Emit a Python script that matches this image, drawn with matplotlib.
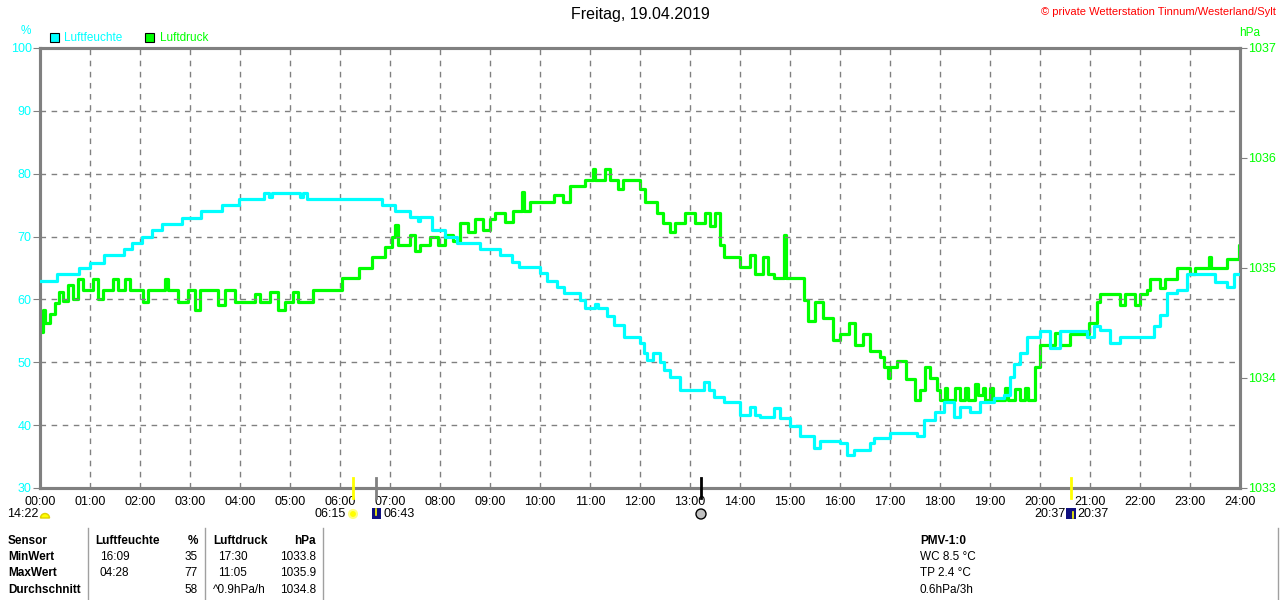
import matplotlib.pyplot as plt
import matplotlib.patches as mpatches
from matplotlib.transforms import blended_transform_factory

plt.rcParams['font.family'] = ['Liberation Sans', 'DejaVu Sans']

# Luftfeuchte (%), hours since midnight
hum_t = [0.00, 0.33, 0.77, 1.00, 1.27, 1.67, 1.83, 2.04, 2.23, 2.43, 2.84, 3.22,
         3.64, 3.98, 4.47, 4.58, 4.63, 5.20, 5.25, 5.33, 6.84, 7.10, 7.40, 7.55,
         7.60, 7.84, 8.10, 8.33, 8.80, 9.20, 9.43, 9.57, 10.00, 10.13, 10.33, 10.47,
         10.80, 10.90, 11.10, 11.15, 11.33, 11.47, 11.67, 12.00, 12.07, 12.13, 12.25,
         12.40, 12.47, 12.60, 12.80, 13.28, 13.38, 13.47, 13.67, 14.00, 14.20, 14.30,
         14.40, 14.67, 14.80, 15.00, 15.20, 15.47, 15.60, 16.00, 16.15, 16.27, 16.60,
         16.67, 17.00, 17.53, 17.67, 17.90, 18.07, 18.27, 18.40, 18.60, 18.80, 19.07,
         19.27, 19.40, 19.47, 19.60, 19.73, 20.00, 20.20, 20.40, 20.93, 21.07, 21.20,
         21.40, 21.60, 22.27, 22.40, 22.53, 22.73, 22.93, 23.50, 23.73, 23.87, 24.00]
hum_v = [63.0, 64.0, 65.0, 65.8, 67.0, 68.0, 68.9, 69.9, 71.0, 72.0, 72.9, 74.0,
         75.0, 76.0, 77.0, 76.3, 77.0, 76.3, 77.0, 76.0, 75.0, 74.1, 73.1, 72.5,
         73.1, 71.0, 69.9, 68.9, 68.0, 67.1, 66.0, 65.1, 64.2, 63.0, 62.0, 61.0,
         59.9, 58.6, 59.3, 58.6, 57.3, 55.9, 54.1, 53.0, 51.4, 50.4, 51.5,
         50.0, 48.8, 47.7, 45.6, 46.9, 45.6, 44.5, 43.7, 41.6, 42.9, 41.6,
         41.3, 42.7, 41.1, 39.8, 38.2, 36.3, 37.4, 37.2, 35.3, 36.0, 37.1,
         37.9, 38.7, 38.2, 40.8, 42.1, 43.7, 41.3, 42.9, 42.1, 43.7, 44.3,
         44.8, 47.7, 49.8, 51.4, 54.1, 54.9, 52.2, 54.9, 54.1, 55.8, 55.1,
         53.0, 54.0, 55.7, 57.5, 61.0, 61.5, 64.0, 62.8, 62.0, 64.0, 64.0]

# Luftdruck (hPa)
prs_t = [0.00, 0.05, 0.10, 0.20, 0.30, 0.37, 0.45, 0.55, 0.65, 0.75, 0.85, 1.05,
         1.15, 1.25, 1.45, 1.55, 1.70, 1.80, 2.05, 2.15, 2.50, 2.55, 2.75, 2.95,
         3.10, 3.20, 3.55, 3.70, 3.90, 4.30, 4.40, 4.60, 4.75, 4.90, 5.05, 5.15,
         5.45, 6.03, 6.37, 6.63, 6.90, 7.03, 7.10, 7.15, 7.40, 7.50, 7.60, 7.80,
         7.95, 8.10, 8.25, 8.40, 8.55, 8.70, 8.85, 9.00, 9.10, 9.30, 9.45, 9.63,
         9.67, 9.80, 10.27, 10.45, 10.60, 10.90, 11.05, 11.10, 11.30, 11.40, 11.55,
         11.65, 12.00, 12.10, 12.33, 12.45, 12.60, 12.70, 12.90, 13.10, 13.30, 13.40,
         13.50, 13.60, 13.67, 14.00, 14.20, 14.30, 14.45, 14.55, 14.67, 14.88, 14.92,
         15.27, 15.35, 15.50, 15.65, 15.85, 16.00, 16.17, 16.30, 16.45, 16.60, 16.80,
         16.87, 16.95, 17.00, 17.15, 17.33, 17.50, 17.60, 17.70, 17.80, 17.93, 18.00,
         18.10, 18.15, 18.30, 18.40, 18.50, 18.55, 18.70, 18.75, 18.85, 18.90, 19.00,
         19.05, 19.20, 19.30, 19.35, 19.50, 19.60, 19.70, 19.75, 19.90, 20.00, 20.30,
         20.40, 20.60, 20.97, 21.13, 21.20, 21.60, 21.70, 21.90, 22.00, 22.13, 22.20,
         22.40, 22.50, 22.73, 23.00, 23.10, 23.37, 23.42, 23.73, 23.97, 24.00]
prs_v = [1034.42, 1034.62, 1034.50, 1034.58, 1034.68, 1034.78, 1034.70, 1034.85,
         1034.72, 1034.90, 1034.80, 1034.90, 1034.72, 1034.80, 1034.90, 1034.80,
         1034.90, 1034.80, 1034.69, 1034.80, 1034.90, 1034.80, 1034.69, 1034.80,
         1034.62, 1034.80, 1034.66, 1034.80, 1034.69, 1034.76, 1034.69, 1034.78,
         1034.62, 1034.69, 1034.78, 1034.69, 1034.80, 1034.91, 1035.00, 1035.10,
         1035.19, 1035.28, 1035.39, 1035.21, 1035.30, 1035.15, 1035.21, 1035.28,
         1035.21, 1035.30, 1035.25, 1035.41, 1035.33, 1035.45, 1035.35, 1035.45,
         1035.50, 1035.42, 1035.52, 1035.69, 1035.52, 1035.60, 1035.66, 1035.60,
         1035.75, 1035.80, 1035.90, 1035.80, 1035.90, 1035.80, 1035.72, 1035.80,
         1035.72, 1035.60, 1035.50, 1035.41, 1035.33, 1035.41, 1035.50, 1035.41,
         1035.50, 1035.38, 1035.50, 1035.21, 1035.10, 1035.01, 1035.12, 1034.95,
         1035.10, 1034.95, 1034.91, 1035.30, 1034.91, 1034.71, 1034.52, 1034.69,
         1034.55, 1034.35, 1034.40, 1034.50, 1034.30, 1034.40, 1034.25, 1034.19,
         1034.10, 1034.00, 1034.10, 1034.15, 1033.99, 1033.80, 1033.89, 1034.10,
         1034.00, 1033.89, 1033.80,
         1033.91, 1033.80, 1033.91, 1033.80, 1033.91, 1033.80, 1033.95, 1033.85,
         1033.91, 1033.80, 1033.91, 1033.80, 1033.80, 1033.91, 1033.80, 1033.90,
         1033.80, 1033.91, 1033.80, 1034.10, 1034.30, 1034.41,
         1034.30, 1034.40, 1034.50, 1034.69, 1034.76, 1034.66, 1034.76, 1034.66,
         1034.76, 1034.80, 1034.90, 1034.82, 1034.90, 1035.00, 1034.95, 1035.00,
         1035.10, 1035.00, 1035.08, 1035.21, 1035.21]

hour_ticks = list(range(0, 25))
hour_labels = [f"{h:02d}:00" for h in hour_ticks]
hum_ticks = [30, 40, 50, 60, 70, 80, 90, 100]
prs_ticks = [1033, 1034, 1035, 1036, 1037]

# sun / moon events (hours) and marker colours
event_t = [6.25, 6.717, 13.22, 20.617]
event_c = ["#ffff00", "#808080", "#000000", "#ffff00"]

CYAN = "#00ffff"
GREEN = "#00ff00"
GRAY = "#808080"

fig = plt.figure(figsize=(12.8, 6.0), dpi=100)
ax = fig.add_axes([40 / 1280, 1 - 488 / 600, 1200 / 1280, 440 / 600])
ax2 = ax.twinx()

ax2.step(prs_t, prs_v, where="post", color=GREEN, lw=2.3, zorder=2)
ax.step(hum_t, hum_v, where="post", color=CYAN, lw=2.3, zorder=3)
ax.set_zorder(ax2.get_zorder() + 1)
ax.patch.set_visible(False)

ax.set_xlim(0, 24)
ax.set_ylim(30, 100)
ax2.set_ylim(1033, 1037)
ax.set_xticks(hour_ticks)
ax.set_xticklabels(hour_labels, fontsize=9)
ax.set_yticks(hum_ticks)
ax.set_yticklabels([str(v) for v in hum_ticks], fontsize=9, color=CYAN)
ax2.set_yticks(prs_ticks)
ax2.set_yticklabels([str(v) for v in prs_ticks], fontsize=9, color=GREEN)
ax.tick_params(axis="x", length=0, pad=6)
ax.tick_params(axis="y", length=5, color=GRAY, pad=1)
ax2.tick_params(axis="y", length=5, color=GRAY, pad=1)
ax.grid(True, color=GRAY, linestyle=(0, (4, 4)), linewidth=1)

for a in (ax, ax2):
    for s in a.spines.values():
        s.set_edgecolor(GRAY)
        s.set_linewidth(2.2)

# event markers crossing the bottom axis
trans = blended_transform_factory(ax.transData, ax.transAxes)
for t, c in zip(event_t, event_c):
    ax.plot([t, t], [-0.022, 0.022], color=c, lw=2, transform=trans,
            clip_on=False, zorder=5)

# overlay in pixel coordinates for texts and icons
ov = fig.add_axes([0, 0, 1, 1])
ov.set_xlim(0, 1280)
ov.set_ylim(600, 0)
ov.axis("off")

ov.text(640, 15, "Freitag, 19.04.2019", ha="center", va="center", fontsize=11.5)
ov.text(1276, 12, "© private Wetterstation Tinnum/Westerland/Sylt", ha="right",
        va="center", fontsize=8, color="#ff0000")
ov.text(26, 31, "%", ha="center", va="center", fontsize=8.5, color=CYAN)
ov.text(1250, 33, "hPa", ha="center", va="center", fontsize=8.5, color=GREEN)

ov.add_patch(mpatches.Rectangle((50, 33), 9, 9, fc=CYAN, ec="black", lw=0.8))
ov.text(64, 38, "Luftfeuchte", va="center", fontsize=8.5, color=CYAN)
ov.add_patch(mpatches.Rectangle((145, 33), 9, 9, fc=GREEN, ec="black", lw=0.8))
ov.text(160, 38, "Luftdruck", va="center", fontsize=8.5, color=GREEN)

# icon row below the time axis
ov.text(38, 514, "14:22", ha="right", va="center", fontsize=9)
ov.add_patch(mpatches.Wedge((45, 518), 4.5, 180, 360, fc="#ffff00", ec="#e0d000"))
ov.text(346, 514, "06:15", ha="right", va="center", fontsize=9)
ov.add_patch(mpatches.Circle((353, 514), 4, fc="#ffff00", ec="#ffff80", lw=1.5))
ov.add_patch(mpatches.Rectangle((372, 508), 9, 11, fc="#101080", ec="none"))
ov.plot([376, 376], [509, 515], color="#ffff00", lw=1.2)
ov.text(383, 514, "06:43", ha="left", va="center", fontsize=9)
ov.add_patch(mpatches.Circle((701, 514), 5, fc="#c0c0c0", ec="black", lw=1))
ov.text(1066, 514, "20:37", ha="right", va="center", fontsize=9)
ov.add_patch(mpatches.Rectangle((1066, 508), 10, 11, fc="#101080", ec="none"))
ov.plot([1073, 1073], [512, 518], color="#ffff00", lw=1.2)
ov.text(1077, 514, "20:37", ha="left", va="center", fontsize=9)

# summary table
for x in (88, 205, 323, 1278):
    ov.plot([x, x], [528, 600], color="#a0a0a0", lw=1)

rows_y = [541, 557, 573, 590]
row_names = ["Sensor", "MinWert", "MaxWert", "Durchschnitt"]
hum_time = ["", "16:09", "04:28", ""]
hum_val = ["%", "35", "77", "58"]
prs_time = ["", "17:30", "11:05", "^0.9hPa/h"]
prs_val = ["hPa", "1033.8", "1035.9", "1034.8"]
pmv = ["PMV-1:0", "WC 8.5 °C", "TP 2.4 °C", "0.6hPa/3h"]

for i, y in enumerate(rows_y):
    ov.text(8, y, row_names[i], va="center", fontsize=8.5, fontweight="bold")
    w = "bold" if i == 0 else "normal"
    ov.text(198, y, hum_val[i], ha="right", va="center", fontsize=8.5, fontweight=w)
    ov.text(316, y, prs_val[i], ha="right", va="center", fontsize=8.5, fontweight=w)
    ov.text(920, y, pmv[i], va="center", fontsize=8.5, fontweight=w)
    if i > 0:
        ov.text(100, y, hum_time[i], va="center", fontsize=8.5)
        ov.text(213 if i == 3 else 218, y, prs_time[i], va="center", fontsize=8.5)
ov.text(95, rows_y[0], "Luftfeuchte", va="center", fontsize=8.5, fontweight="bold")
ov.text(213, rows_y[0], "Luftdruck", va="center", fontsize=8.5, fontweight="bold")

fig.savefig("out.png", dpi=100)
